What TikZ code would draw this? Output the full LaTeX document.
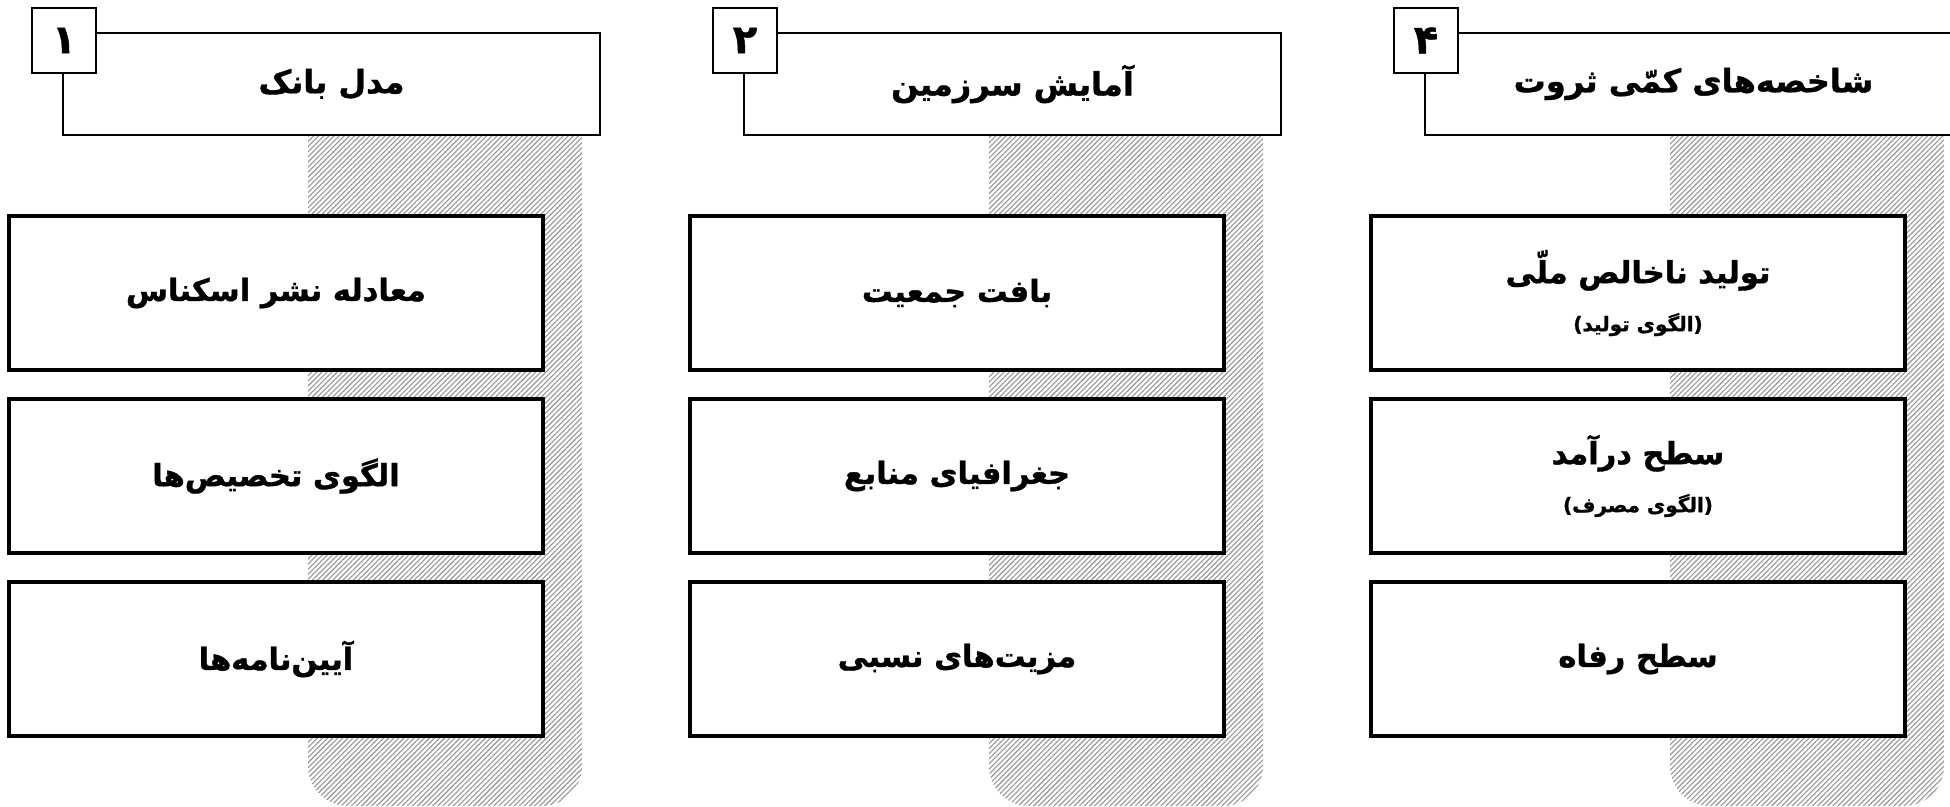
\documentclass[tikz,border=0pt]{standalone}
\usepackage{fontspec}
\usepackage{tikz}
\usetikzlibrary{patterns.meta}
\TeXXeTstate=1
\newfontfamily\persianfont[Script=Arabic, BoldFeatures={FakeBold=1.2}]{DejaVu Sans}
\newcommand{\fa}[1]{\beginR#1\endR}
\newcommand{\subfa}[1]{{\fontsize{20}{24}\selectfont\beginR#1\endR}}

\begin{document}
\begin{tikzpicture}[x=1pt,y=-1pt,
  hatchstrip/.style={pattern={Lines[angle=45,distance=3.6pt,line width=1.1pt]}, pattern color=black!42, rounded corners=40pt},
  titlebox/.style={draw, fill=white, line width=2.4pt, minimum width=537pt, minimum height=102pt, inner sep=0pt,
    font=\persianfont\bfseries\fontsize{32}{38}\selectfont},
  numbox/.style={draw, fill=white, line width=2.4pt, minimum width=64pt, minimum height=65pt, inner sep=0pt,
    font=\persianfont\bfseries\fontsize{40}{42}\selectfont},
  itembox/.style={draw, fill=white, line width=3.3pt, minimum width=534pt, minimum height=154pt, inner sep=0pt,
    align=center, font=\persianfont\bfseries\fontsize{30.5}{40}\selectfont}]
\useasboundingbox (0,0) rectangle (1950,806);
\clip (0,0) rectangle (1950,806);

% hatched strips behind each column
\path[hatchstrip] (308,100) rectangle (582,806);
\path[hatchstrip] (989,100) rectangle (1263,806);
\path[hatchstrip] (1670,100) rectangle (1944,806);

% column 1
\node [titlebox] (title1) at (331.5,84) {\fa{مدل بانک}};
\node [numbox] (num1) at (64,40.5) {\fa{۱}};
\node [itembox] (bank1) at (276,293) {\fa{معادله نشر اسکناس}};
\node [itembox] (bank2) at (276,476) {\fa{الگوی تخصیص‌ها}};
\node [itembox] (bank3) at (276,659) {\fa{آیین‌نامه‌ها}};

% column 2
\node [titlebox] (title2) at (1012.5,84) {\fa{آمایش سرزمین}};
\node [numbox] (num2) at (745,40.5) {\fa{۲}};
\node [itembox] (land1) at (957,293) {\fa{بافت جمعیت}};
\node [itembox] (land2) at (957,476) {\fa{جغرافیای منابع}};
\node [itembox] (land3) at (957,659) {\fa{مزیت‌های نسبی}};

% column 4
\node [titlebox] (title4) at (1693.5,84) {\fa{شاخصه‌های کمّی ثروت}};
\node [numbox] (num4) at (1426,40.5) {\fa{۴}};
\node [itembox] (wealth1) at (1638,293) {\fa{تولید ناخالص ملّی}\\[8pt] \subfa{(الگوی تولید)}};
\node [itembox] (wealth2) at (1638,476) {\fa{سطح درآمد}\\[8pt] \subfa{(الگوی مصرف)}};
\node [itembox] (wealth3) at (1638,659) {\fa{سطح رفاه}};
\end{tikzpicture}
\end{document}
